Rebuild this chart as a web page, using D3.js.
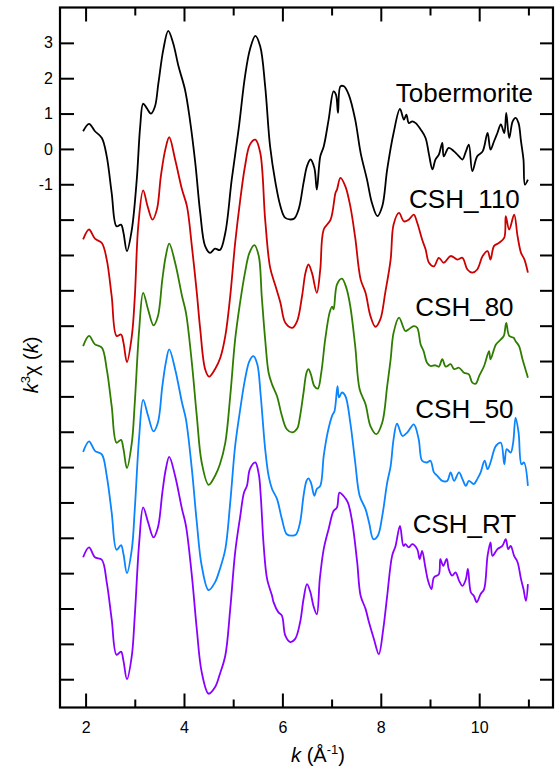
<!DOCTYPE html>
<html><head><meta charset="utf-8">
<script src="https://cdn.jsdelivr.net/npm/d3@7"></script>
<style>
html,body{margin:0;padding:0;background:#fff;}
svg{display:block;font-family:"Liberation Sans",Arial,Helvetica,sans-serif;}
</style></head><body>
<svg id="chart" width="555" height="767"></svg>
<script>
// ---------- data ----------
const seriesNames = ["Tobermorite","CSH_110","CSH_80","CSH_50","CSH_RT"];
const seriesOffsets = [0,-3,-6,-9,-12];
const seriesColors = ["#000000","#cc0000","#2f7d00","#0a84ff","#8a00ff"];

const kTob = [1.95,2.07,2.19,2.33,2.43,2.53,2.63,2.72,2.77,2.84,2.94,3.04,3.11,3.17,3.24,3.33,3.41,3.48,3.58,3.68,3.78,3.89,4.02,4.12,4.23,4.33,4.43,4.53,4.63,4.73,4.84,4.97,5.11,5.24,5.34,5.45,5.55,5.65,5.75,5.86,5.96,6.06,6.23,6.33,6.43,6.50,6.57,6.65,6.70,6.77,6.84,6.94,7.04,7.09,7.13,7.18,7.25,7.35,7.48,7.59,7.72,7.82,7.93,8.03,8.13,8.26,8.39,8.47,8.52,8.57,8.64,8.71,8.81,8.91,8.98,9.05,9.11,9.18,9.25,9.28,9.38,9.49,9.59,9.66,9.73,9.79,9.86,9.96,10.07,10.17,10.23,10.30,10.37,10.44,10.51,10.55,10.61,10.68,10.74,10.80,10.85,10.90,10.93,10.99];
const chiTob = [0.50,0.71,0.50,0.31,-0.21,-1.24,-2.19,-2.14,-2.37,-2.89,-2.28,-0.87,0.64,1.28,1.16,1.00,1.20,1.86,2.81,3.34,2.99,2.33,1.68,0.83,-0.40,-1.81,-2.75,-2.94,-2.82,-2.86,-2.37,-0.87,0.55,2.05,2.81,3.20,2.90,1.77,0.07,-0.96,-1.62,-1.95,-1.98,-1.71,-0.96,-0.49,-0.30,-0.54,-1.15,-0.21,0.07,0.83,1.63,1.53,1.02,1.77,1.77,1.53,0.83,-0.11,-0.87,-1.53,-1.90,-1.62,-0.58,0.45,1.13,0.83,0.97,0.73,0.78,0.73,0.55,0.31,-0.16,-0.58,-0.30,-0.16,0.17,-0.21,0.03,-0.07,-0.21,-0.30,-0.07,0.12,-0.63,-0.21,-0.07,0.45,-0.02,0.21,0.45,0.69,0.45,1.02,0.31,0.78,0.88,0.73,0.21,-0.30,-1.01,-0.87];

const k110 = [1.95,2.07,2.19,2.33,2.43,2.53,2.63,2.72,2.77,2.84,2.94,3.00,3.07,3.17,3.26,3.36,3.45,3.53,3.62,3.70,3.82,3.96,4.06,4.16,4.26,4.33,4.43,4.51,4.63,4.74,4.84,4.94,5.04,5.14,5.24,5.34,5.45,5.55,5.65,5.75,5.86,5.96,6.06,6.20,6.30,6.40,6.47,6.53,6.60,6.70,6.77,6.84,6.98,7.08,7.11,7.18,7.28,7.38,7.48,7.59,7.69,7.79,7.89,7.99,8.09,8.20,8.26,8.37,8.47,8.57,8.67,8.74,8.84,8.91,8.98,9.08,9.18,9.28,9.42,9.56,9.66,9.76,9.86,9.96,10.07,10.17,10.23,10.30,10.40,10.51,10.54,10.61,10.71,10.78,10.85,10.92,10.99];
const chi110 = [0.44,0.72,0.46,0.34,-0.13,-1.16,-2.29,-2.25,-2.48,-3.03,-2.29,-1.20,0.81,1.83,1.38,1.00,1.29,2.23,2.98,3.33,2.70,1.85,1.38,0.25,-1.06,-2.10,-3.23,-3.44,-3.23,-2.90,-2.29,-1.16,0.34,1.52,2.51,3.12,3.26,2.89,1.00,-0.35,-0.88,-1.35,-1.92,-2.06,-1.87,-1.16,-0.50,-0.27,-0.50,-1.07,-0.41,0.72,1.00,1.76,1.85,2.18,1.94,1.38,0.49,-0.69,-1.07,-1.73,-2.03,-1.82,-1.07,-0.13,0.86,1.19,0.95,1.00,1.14,0.91,0.44,0.16,-0.22,-0.32,-0.08,-0.22,-0.03,-0.13,-0.08,-0.41,-0.50,-0.41,-0.03,0.11,-0.13,0.25,0.34,0.49,1.10,0.72,1.14,0.53,0.06,-0.13,-0.50];

const k80 = [1.95,2.07,2.19,2.33,2.43,2.53,2.63,2.72,2.77,2.84,2.94,3.00,3.09,3.17,3.27,3.38,3.47,3.56,3.63,3.70,3.82,3.96,4.04,4.16,4.26,4.36,4.50,4.63,4.73,4.84,4.94,5.04,5.14,5.24,5.33,5.43,5.52,5.58,5.65,5.72,5.79,5.89,5.99,6.09,6.20,6.30,6.36,6.43,6.49,6.53,6.58,6.65,6.72,6.79,6.87,6.96,7.01,7.04,7.11,7.21,7.30,7.38,7.48,7.57,7.69,7.79,7.91,8.03,8.13,8.20,8.26,8.37,8.50,8.57,8.67,8.74,8.81,8.87,8.94,9.01,9.11,9.18,9.25,9.32,9.42,9.49,9.59,9.69,9.79,9.86,9.93,10.00,10.10,10.20,10.23,10.34,10.44,10.50,10.55,10.61,10.70,10.74,10.81,10.88,10.95,10.99];
const chi80 = [0.42,0.71,0.47,0.38,-0.23,-1.27,-2.31,-2.23,-2.49,-3.03,-2.31,-1.18,0.90,1.93,1.46,1.01,1.27,2.31,2.97,3.32,2.78,1.84,1.37,-0.05,-1.55,-2.87,-3.50,-3.25,-2.92,-2.31,-0.99,0.61,1.65,2.50,3.06,3.28,2.97,1.84,0.61,-0.33,-0.66,-0.99,-1.55,-1.93,-2.02,-1.91,-1.55,-0.89,-0.33,-0.23,-0.38,-0.71,-0.78,-0.33,0.61,1.37,1.54,1.46,2.17,2.33,2.07,1.55,0.42,-0.80,-1.22,-1.84,-2.07,-1.74,-0.71,0.05,0.80,1.23,0.85,0.90,0.99,0.94,0.47,0.28,-0.05,-0.14,-0.12,-0.16,0.05,-0.16,-0.09,-0.23,-0.19,-0.33,-0.38,-0.61,-0.64,-0.42,-0.14,0.28,0.05,0.47,0.61,0.71,1.08,0.71,0.66,0.56,0.42,0.05,-0.28,-0.47];

const k50 = [1.95,2.07,2.19,2.33,2.43,2.53,2.63,2.72,2.77,2.84,2.94,3.00,3.09,3.17,3.27,3.38,3.47,3.56,3.63,3.70,3.82,3.96,4.04,4.16,4.26,4.36,4.50,4.63,4.73,4.84,4.94,5.04,5.14,5.24,5.33,5.41,5.49,5.56,5.65,5.72,5.79,5.89,5.99,6.09,6.20,6.28,6.36,6.43,6.49,6.53,6.58,6.65,6.70,6.77,6.84,6.92,7.01,7.06,7.12,7.15,7.21,7.28,7.38,7.48,7.57,7.69,7.76,7.85,7.94,8.03,8.13,8.20,8.26,8.33,8.44,8.54,8.67,8.77,8.84,8.94,9.01,9.08,9.15,9.25,9.35,9.42,9.49,9.59,9.66,9.73,9.79,9.89,9.96,10.03,10.11,10.17,10.23,10.34,10.44,10.51,10.56,10.64,10.69,10.74,10.80,10.86,10.91,10.99];
const chi50 = [0.43,0.73,0.46,0.36,-0.25,-1.28,-2.34,-2.21,-2.46,-3.00,-2.32,-1.19,0.88,1.90,1.45,1.01,1.26,2.29,2.95,3.33,2.77,1.82,1.35,-0.06,-1.56,-2.79,-3.48,-3.26,-2.88,-2.32,-1.00,0.60,1.61,2.48,3.00,3.14,2.91,2.01,0.51,-0.25,-0.62,-0.90,-1.47,-1.90,-1.94,-1.90,-1.56,-0.81,-0.39,-0.32,-0.44,-0.81,-0.62,-0.53,0.32,0.98,1.45,1.59,2.29,1.97,2.11,2.01,1.26,0.13,-0.81,-1.19,-1.56,-2.04,-1.94,-1.38,-0.44,0.03,0.79,1.23,0.88,0.98,1.21,0.79,0.18,0.13,0.18,-0.15,-0.25,-0.39,-0.39,-0.15,-0.39,-0.15,-0.34,-0.53,-0.39,-0.48,-0.34,-0.15,0.18,-0.06,0.13,0.60,0.69,0.08,0.51,0.41,0.69,1.40,0.98,0.08,0.13,-0.53];

const kRT = [1.95,2.07,2.19,2.33,2.43,2.53,2.63,2.72,2.77,2.84,2.94,3.00,3.09,3.17,3.27,3.38,3.47,3.56,3.63,3.70,3.82,3.96,4.04,4.16,4.26,4.36,4.50,4.63,4.73,4.84,4.94,5.04,5.14,5.22,5.28,5.34,5.45,5.52,5.56,5.62,5.69,5.79,5.82,5.92,5.99,6.06,6.16,6.26,6.36,6.43,6.50,6.57,6.63,6.70,6.76,6.84,6.94,7.04,7.11,7.16,7.24,7.33,7.42,7.52,7.59,7.69,7.76,7.86,7.96,8.05,8.13,8.23,8.30,8.39,8.46,8.50,8.57,8.64,8.74,8.79,8.84,8.90,8.96,9.03,9.08,9.18,9.21,9.27,9.34,9.38,9.45,9.52,9.59,9.66,9.73,9.77,9.83,9.89,9.95,10.03,10.10,10.17,10.23,10.27,10.37,10.47,10.54,10.59,10.64,10.71,10.78,10.85,10.90,10.95,10.99];
const chiRT = [0.45,0.73,0.45,0.38,-0.26,-1.30,-2.31,-2.22,-2.48,-3.00,-2.33,-1.20,0.87,1.86,1.44,1.01,1.29,2.28,2.94,3.29,2.75,1.81,1.34,-0.07,-1.58,-2.80,-3.41,-3.23,-2.85,-2.33,-1.01,0.59,1.58,2.28,2.47,2.94,3.13,2.80,2.19,0.77,-0.17,-0.64,-0.82,-1.11,-1.20,-1.77,-1.95,-1.86,-1.39,-0.73,-0.31,-0.54,-0.92,-1.16,-0.17,0.68,1.25,1.76,1.86,2.28,2.19,2.00,1.44,0.31,-0.64,-1.01,-1.39,-1.86,-2.29,-1.58,-0.64,0.49,0.77,1.34,0.77,0.82,0.73,0.82,0.68,0.40,0.63,0.21,-0.21,-0.45,-0.12,-0.03,0.40,0.21,0.40,0.12,-0.07,0.02,-0.21,-0.36,-0.17,0.12,-0.54,-0.64,-0.82,-0.59,-0.45,0.49,0.87,0.49,0.68,0.77,0.96,0.68,0.77,0.49,0.31,-0.17,-0.45,-0.78,-0.31];

const seriesK = [kTob,k110,k80,k50,kRT];
const seriesChi = [chiTob,chi110,chi80,chi50,chiRT];

const xMajorTicks = [2,4,6,8,10];
const xMinorTicks = [3,5,7,9,11];
const yTicks = d3.range(-15,4);
const yLabeledTicks = [3,2,1,0,-1];

// ---------- layout ----------
const svg = d3.select("#chart");
const L = 60, R = 553, T = 7.5, B = 707.5;
const x = d3.scaleLinear().domain([1.48, 11.5]).range([L, R]);
const y = d3.scaleLinear().domain([-15.8, 4]).range([B, T]);

const g = svg.append("g");

function styleAxis(sel){
  sel.select(".domain").remove();
  sel.selectAll(".tick line").attr("stroke","#000").attr("stroke-width",2);
  sel.selectAll(".tick text").attr("fill","#000").style("font-size","16px")
     .style("font-family",'"Liberation Sans",Arial,Helvetica,sans-serif');
}

// bottom major
g.append("g").attr("transform",`translate(0,${B})`)
 .call(d3.axisBottom(x).tickValues(xMajorTicks).tickSize(-14).tickPadding(14).tickFormat(d=>String(d)))
 .call(styleAxis);
// bottom minor
g.append("g").attr("transform",`translate(0,${B})`)
 .call(d3.axisBottom(x).tickValues(xMinorTicks).tickSize(-8).tickFormat(""))
 .call(styleAxis);
// top major / minor
g.append("g").attr("transform",`translate(0,${T})`)
 .call(d3.axisTop(x).tickValues(xMajorTicks).tickSize(-14).tickFormat(""))
 .call(styleAxis);
g.append("g").attr("transform",`translate(0,${T})`)
 .call(d3.axisTop(x).tickValues(xMinorTicks).tickSize(-8).tickFormat(""))
 .call(styleAxis);
// left
g.append("g").attr("transform",`translate(${L},0)`)
 .call(d3.axisLeft(y).tickValues(yTicks).tickSize(-14).tickPadding(7)
   .tickFormat(d => yLabeledTicks.includes(d) ? String(d) : ""))
 .call(styleAxis);
// right
g.append("g").attr("transform",`translate(${R},0)`)
 .call(d3.axisRight(y).tickValues(yTicks).tickSize(-13).tickFormat(""))
 .call(styleAxis);

// frame
g.append("rect").attr("x",L).attr("y",T).attr("width",R-L).attr("height",B-T)
 .attr("fill","none").attr("stroke","#000").attr("stroke-width",2.2);

// curves
const line = d3.line().x(d=>x(d[0])).y(d=>y(d[1])).curve(d3.curveCatmullRom.alpha(0.5));
seriesNames.forEach((name,i)=>{
  const ks = seriesK[i], cs = seriesChi[i];
  const n = Math.min(ks.length, cs.length);
  const pts = d3.range(n).map(j=>[ks[j], cs[j] + seriesOffsets[i]]);
  g.append("path").datum(pts).attr("d",line)
   .attr("fill","none").attr("stroke",seriesColors[i])
   .attr("stroke-width",1.8).attr("stroke-linejoin","round");
});

// curve labels
const labelK = 9.7;
const labelDy = [1.32,1.33,1.27,1.40,1.15];
seriesNames.forEach((name,i)=>{
  g.append("text").attr("x",x(labelK)).attr("y",y(seriesOffsets[i]+labelDy[i]))
   .attr("text-anchor","middle").style("font-size","26px").attr("fill","#000").text(name);
});

// axis titles
const xt = g.append("text").attr("x",318).attr("y",762).attr("text-anchor","middle").style("font-size","20px");
xt.append("tspan").style("font-style","italic").text("k");
xt.append("tspan").text(" (Å");
xt.append("tspan").attr("dy",-8).style("font-size","13px").text("-1");
xt.append("tspan").attr("dy",8).text(")");

const yt = g.append("text").attr("transform","translate(38,365) rotate(-90)").attr("text-anchor","middle").style("font-size","20px");
yt.append("tspan").style("font-style","italic").text("k");
yt.append("tspan").attr("dy",-8).style("font-size","13px").text("3");
yt.append("tspan").attr("dy",8).text("χ (");
yt.append("tspan").style("font-style","italic").text("k");
yt.append("tspan").text(")");
</script>
</body></html>
